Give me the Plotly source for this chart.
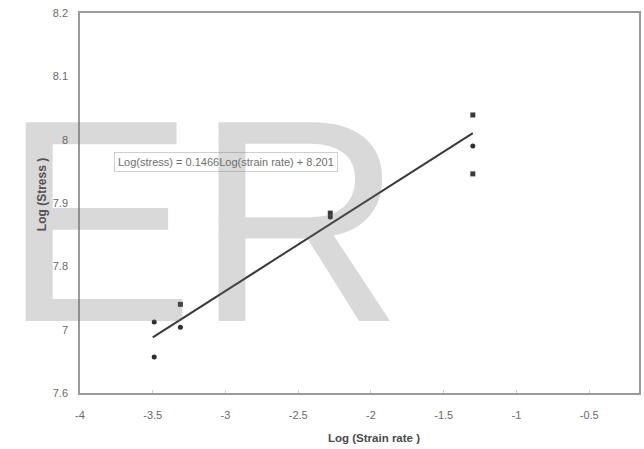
import plotly.graph_objects as go

# Measured points: log10 of strain rate vs log10 of flow stress
x_circle = [-3.49, -3.49, -3.31, -2.28, -1.30]
y_circle = [7.712, 7.657, 7.704, 7.878, 7.990]
x_square = [-3.31, -2.28, -1.30, -1.30]
y_square = [7.740, 7.884, 8.039, 7.946]

# Linear fit reported in the equation box
slope = 0.1466
intercept = 8.201
fit_x = [-3.5, -1.3]
fit_y = [slope * v + intercept for v in fit_x]
fit_label = "Log(stress) = 0.1466Log(strain rate) + 8.201"

x_ticks = [-4, -3.5, -3, -2.5, -2, -1.5, -1, -0.5]
x_tick_text = ["-4", "-3.5", "-3", "-2.5", "-2", "-1.5", "-1", "-0.5"]
y_ticks = [7.6, 7.7, 7.8, 7.9, 8.0, 8.1, 8.2]
y_tick_text = ["7.6", "7", "7.8", "7.9", "8", "8.1", "8.2"]

x_title = "Log (Strain rate )"
y_title = "Log (Stress )"

tick_font = dict(family="Liberation Sans Narrow, Liberation Sans, Arial", size=11, color="#6a6a6a")

W, H = 644, 449
L, R, T, B = 80, 3, 13, 56
plot_w, plot_h = W - L - R, H - T - B


def px_x(px):
    return (px - L) / plot_w


def px_y(py):
    return (H - B - py) / plot_h


fig = go.Figure()
fig.add_trace(go.Scatter(x=fit_x, y=fit_y, mode="lines",
                         line=dict(color="#3a3a3a", width=2), showlegend=False))
fig.add_trace(go.Scatter(x=x_circle, y=y_circle, mode="markers",
                         marker=dict(symbol="circle", size=5, color="#2e2e2e"), showlegend=False))
fig.add_trace(go.Scatter(x=x_square, y=y_square, mode="markers",
                         marker=dict(symbol="square", size=5, color="#3a3a3a"), showlegend=False))

fig.update_layout(
    width=W, height=H,
    margin=dict(l=L, r=R, t=T, b=B),
    paper_bgcolor="white", plot_bgcolor="white",
    showlegend=False,
    xaxis=dict(range=[-4, -0.158], tickvals=x_ticks, ticktext=x_tick_text,
               showgrid=False, zeroline=False, showline=True, mirror=True,
               linecolor="#9a9a9a", linewidth=1.5, ticks="inside", ticklen=3,
               tickcolor="#d0d0d0", tickfont=tick_font, ticklabelstandoff=11),
    yaxis=dict(range=[7.6, 8.2], tickvals=y_ticks, ticktext=y_tick_text,
               showgrid=False, zeroline=False, showline=True, mirror=True,
               linecolor="#9a9a9a", linewidth=1.5, ticks="", tickfont=tick_font,
               ticklabelstandoff=8),
)

# Axis titles
fig.add_annotation(
    text="<b>" + x_title + "</b>", xref="paper", yref="paper",
    x=px_x(375), y=px_y(438), xanchor="center", yanchor="middle", showarrow=False,
    font=dict(family="Liberation Sans, Arial", size=11.5, color="#4a4a4a"),
)
fig.add_annotation(
    text="<b>" + y_title + "</b>", xref="paper", yref="paper",
    x=px_x(42), y=px_y(195), xanchor="center", yanchor="middle", showarrow=False,
    textangle=-90,
    font=dict(family="Liberation Sans, Arial", size=12, color="#4a4a4a"),
)

# Equation box for the fitted line
fig.add_annotation(
    text=fit_label, xref="paper", yref="paper", x=px_x(226.5), y=px_y(162.5),
    xanchor="center", yanchor="middle", showarrow=False,
    font=dict(family="Liberation Sans Narrow, Liberation Sans, Arial", size=11, color="#707070"),
    bordercolor="#cfcfcf", borderwidth=1, borderpad=3, bgcolor="white",
)

# Large translucent "ER" watermark across the left half
fig.add_annotation(
    text="ER", xref="paper", yref="paper", x=px_x(0), y=px_y(221),
    xanchor="left", yanchor="middle", showarrow=False,
    font=dict(family="Liberation Sans, Arial", size=289, color="rgba(110,110,110,0.26)"),
)

fig.write_html("out.html")
